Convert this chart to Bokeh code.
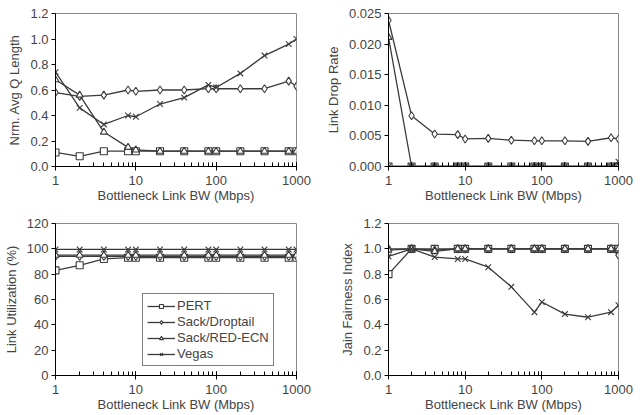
from bokeh.plotting import figure
from bokeh.layouts import gridplot
from bokeh.models import Range1d, FixedTicker, Legend, LegendItem, LogTicker, PrintfTickFormatter
from bokeh.embed import file_html
from bokeh.resources import INLINE

bw = [1, 2, 4, 8, 10, 20, 40, 80, 100, 200, 400, 800, 1000]
series_names = ["PERT", "Sack/Droptail", "Sack/RED-ECN", "Vegas"]

# Normalized average queue length
q_pert = [0.11, 0.08, 0.12, 0.12, 0.12, 0.12, 0.12, 0.12, 0.12, 0.12, 0.12, 0.12, 0.12]
q_drop = [0.58, 0.55, 0.56, 0.60, 0.59, 0.60, 0.60, 0.61, 0.61, 0.61, 0.61, 0.67, 0.63]
q_red = [0.68, 0.56, 0.27, 0.15, 0.13, 0.12, 0.12, 0.12, 0.12, 0.12, 0.12, 0.12, 0.12]
q_vegas = [0.74, 0.46, 0.33, 0.40, 0.39, 0.49, 0.54, 0.64, 0.62, 0.73, 0.87, 0.96, 1.00]

# Link drop rate
d_pert = [0, 0, 0, 0, 0, 0, 0, 0, 0, 0, 0, 0, 0]
d_drop = [0.0239, 0.0083, 0.0053, 0.0052, 0.0045, 0.0046, 0.0043, 0.0042, 0.0042, 0.0042, 0.0041, 0.0047, 0.0045]
d_red = [0.0211, 0, 0, 0, 0, 0, 0, 0, 0, 0, 0, 0, 0]
d_vegas = [0, 0, 0, 0, 0, 0, 0, 0, 0, 0, 0, 0, 0.0008]

# Link utilization (%)
u_pert = [83, 87, 92, 93, 93, 93, 93, 93, 93, 93, 93, 93, 93]
u_drop = [94, 94, 94, 94, 94, 94, 94, 94, 94, 94, 94, 94, 94]
u_red = [95, 95, 95, 95, 95, 95, 95, 95, 95, 95, 95, 95, 95]
u_vegas = [99.5, 99.5, 99.5, 99.5, 99.5, 99.5, 99.5, 99.5, 99.5, 99.5, 99.5, 99.5, 99.5]

# Jain fairness index
j_pert = [0.80, 1.0, 1.0, 1.0, 1.0, 1.0, 1.0, 1.0, 1.0, 1.0, 1.0, 1.0, 1.0]
j_drop = [1.0, 1.0, 0.99, 1.0, 1.0, 1.0, 1.0, 1.0, 1.0, 1.0, 1.0, 1.0, 0.95]
j_red = [0.99, 1.0, 0.98, 1.0, 1.0, 1.0, 1.0, 1.0, 1.0, 1.0, 1.0, 1.0, 1.0]
j_vegas = [0.94, 1.0, 0.935, 0.92, 0.92, 0.855, 0.70, 0.50, 0.58, 0.485, 0.46, 0.50, 0.555]

FONT = "Liberation Sans"
LINE = "#3a3a3a"
markers = ["square", "diamond", "triangle", "x"]
msizes = [7, 8, 7, 8]


def make(ylabel, ymax, yticks, fmt_ticks, w, h, bl, br, bt, bb):
    p = figure(width=w, height=h, x_axis_type="log", output_backend="svg",
               toolbar_location=None, x_range=Range1d(1, 1000),
               y_range=Range1d(0, ymax))
    p.min_border_left = bl
    p.min_border_right = br
    p.min_border_top = bt
    p.min_border_bottom = bb
    p.xgrid.visible = False
    p.ygrid.visible = False
    p.outline_line_color = "#8a8a8a"
    p.outline_line_width = 1
    p.background_fill_color = "white"
    p.border_fill_color = "white"
    p.xaxis.axis_label = "Bottleneck Link BW (Mbps)"
    p.yaxis.axis_label = ylabel
    for ax in (p.xaxis[0], p.yaxis[0]):
        ax.axis_label_text_font = FONT
        ax.axis_label_text_font_style = "normal"
        ax.axis_label_text_font_size = "13px"
        ax.major_label_text_font = FONT
        ax.major_label_text_font_size = "13px"
        ax.axis_line_color = "black"
        ax.major_tick_line_color = "black"
        ax.minor_tick_line_color = "black"
    p.xaxis.ticker = LogTicker(desired_num_ticks=4, num_minor_ticks=10)
    p.xaxis.formatter = PrintfTickFormatter(format="%d")
    p.xaxis.major_tick_in = 4
    p.xaxis.major_tick_out = 4
    p.xaxis.minor_tick_in = 4
    p.xaxis.minor_tick_out = 0
    p.xaxis.axis_label_standoff = 0
    p.xaxis.major_label_standoff = 5
    p.yaxis.ticker = FixedTicker(ticks=yticks)
    p.yaxis.major_label_overrides = {t: s for t, s in zip(yticks, fmt_ticks)}
    p.yaxis.major_tick_in = 0
    p.yaxis.major_tick_out = 4
    p.yaxis.minor_tick_line_color = None
    p.yaxis.axis_label_standoff = 5
    p.yaxis.major_label_standoff = 3
    return p


def add_series(p, ys_list):
    renderers = []
    for ys, m, s in zip(ys_list, markers, msizes):
        l = p.line(bw, ys, line_color=LINE, line_width=1.3)
        sc = p.scatter(bw, ys, marker=m, size=s, line_color=LINE,
                       fill_color="white", line_width=1.1)
        renderers.append((l, sc))
    return renderers


t1 = [0.0, 0.2, 0.4, 0.6, 0.8, 1.0, 1.2]
p1 = make("Nrm. Avg Q Length", 1.2, t1, ["0.0", "0.2", "0.4", "0.6", "0.8", "1.0", "1.2"],
          320, 207, 55, 24, 13, 40)
add_series(p1, [q_pert, q_drop, q_red, q_vegas])

t2 = [0.0, 0.005, 0.010, 0.015, 0.020, 0.025]
p2 = make("Link Drop Rate", 0.025, t2, ["0.000", "0.005", "0.010", "0.015", "0.020", "0.025"],
          320, 207, 68, 20, 13, 41)
add_series(p2, [d_pert, d_drop, d_red, d_vegas])

t3 = [0, 20, 40, 60, 80, 100, 120]
p3 = make("Link Utilization (%)", 120, t3, ["0", "20", "40", "60", "80", "100", "120"],
          320, 208, 55, 23, 15, 40)
r3 = add_series(p3, [u_pert, u_drop, u_red, u_vegas])

t4 = [0.0, 0.2, 0.4, 0.6, 0.8, 1.0, 1.2]
p4 = make("Jain Fairness Index", 1.2, t4, ["0.0", "0.2", "0.4", "0.6", "0.8", "1.0", "1.2"],
          320, 208, 59, 22, 16, 38)
add_series(p4, [j_pert, j_drop, j_red, j_vegas])

items = [LegendItem(label=n, renderers=[l, sc]) for n, (l, sc) in zip(series_names, r3)]
legend = Legend(items=items, location=(87, 9), border_line_color="black",
                border_line_width=1, background_fill_color="white",
                background_fill_alpha=1.0, label_text_font=FONT,
                label_text_font_size="13px", glyph_width=28, glyph_height=10,
                label_height=14, spacing=1, padding=4, margin=0,
                label_standoff=2)
p3.add_layout(legend, "center")

grid = gridplot([[p1, p2], [p3, p4]], toolbar_location=None)
open("out.html", "w").write(file_html(grid, INLINE))
